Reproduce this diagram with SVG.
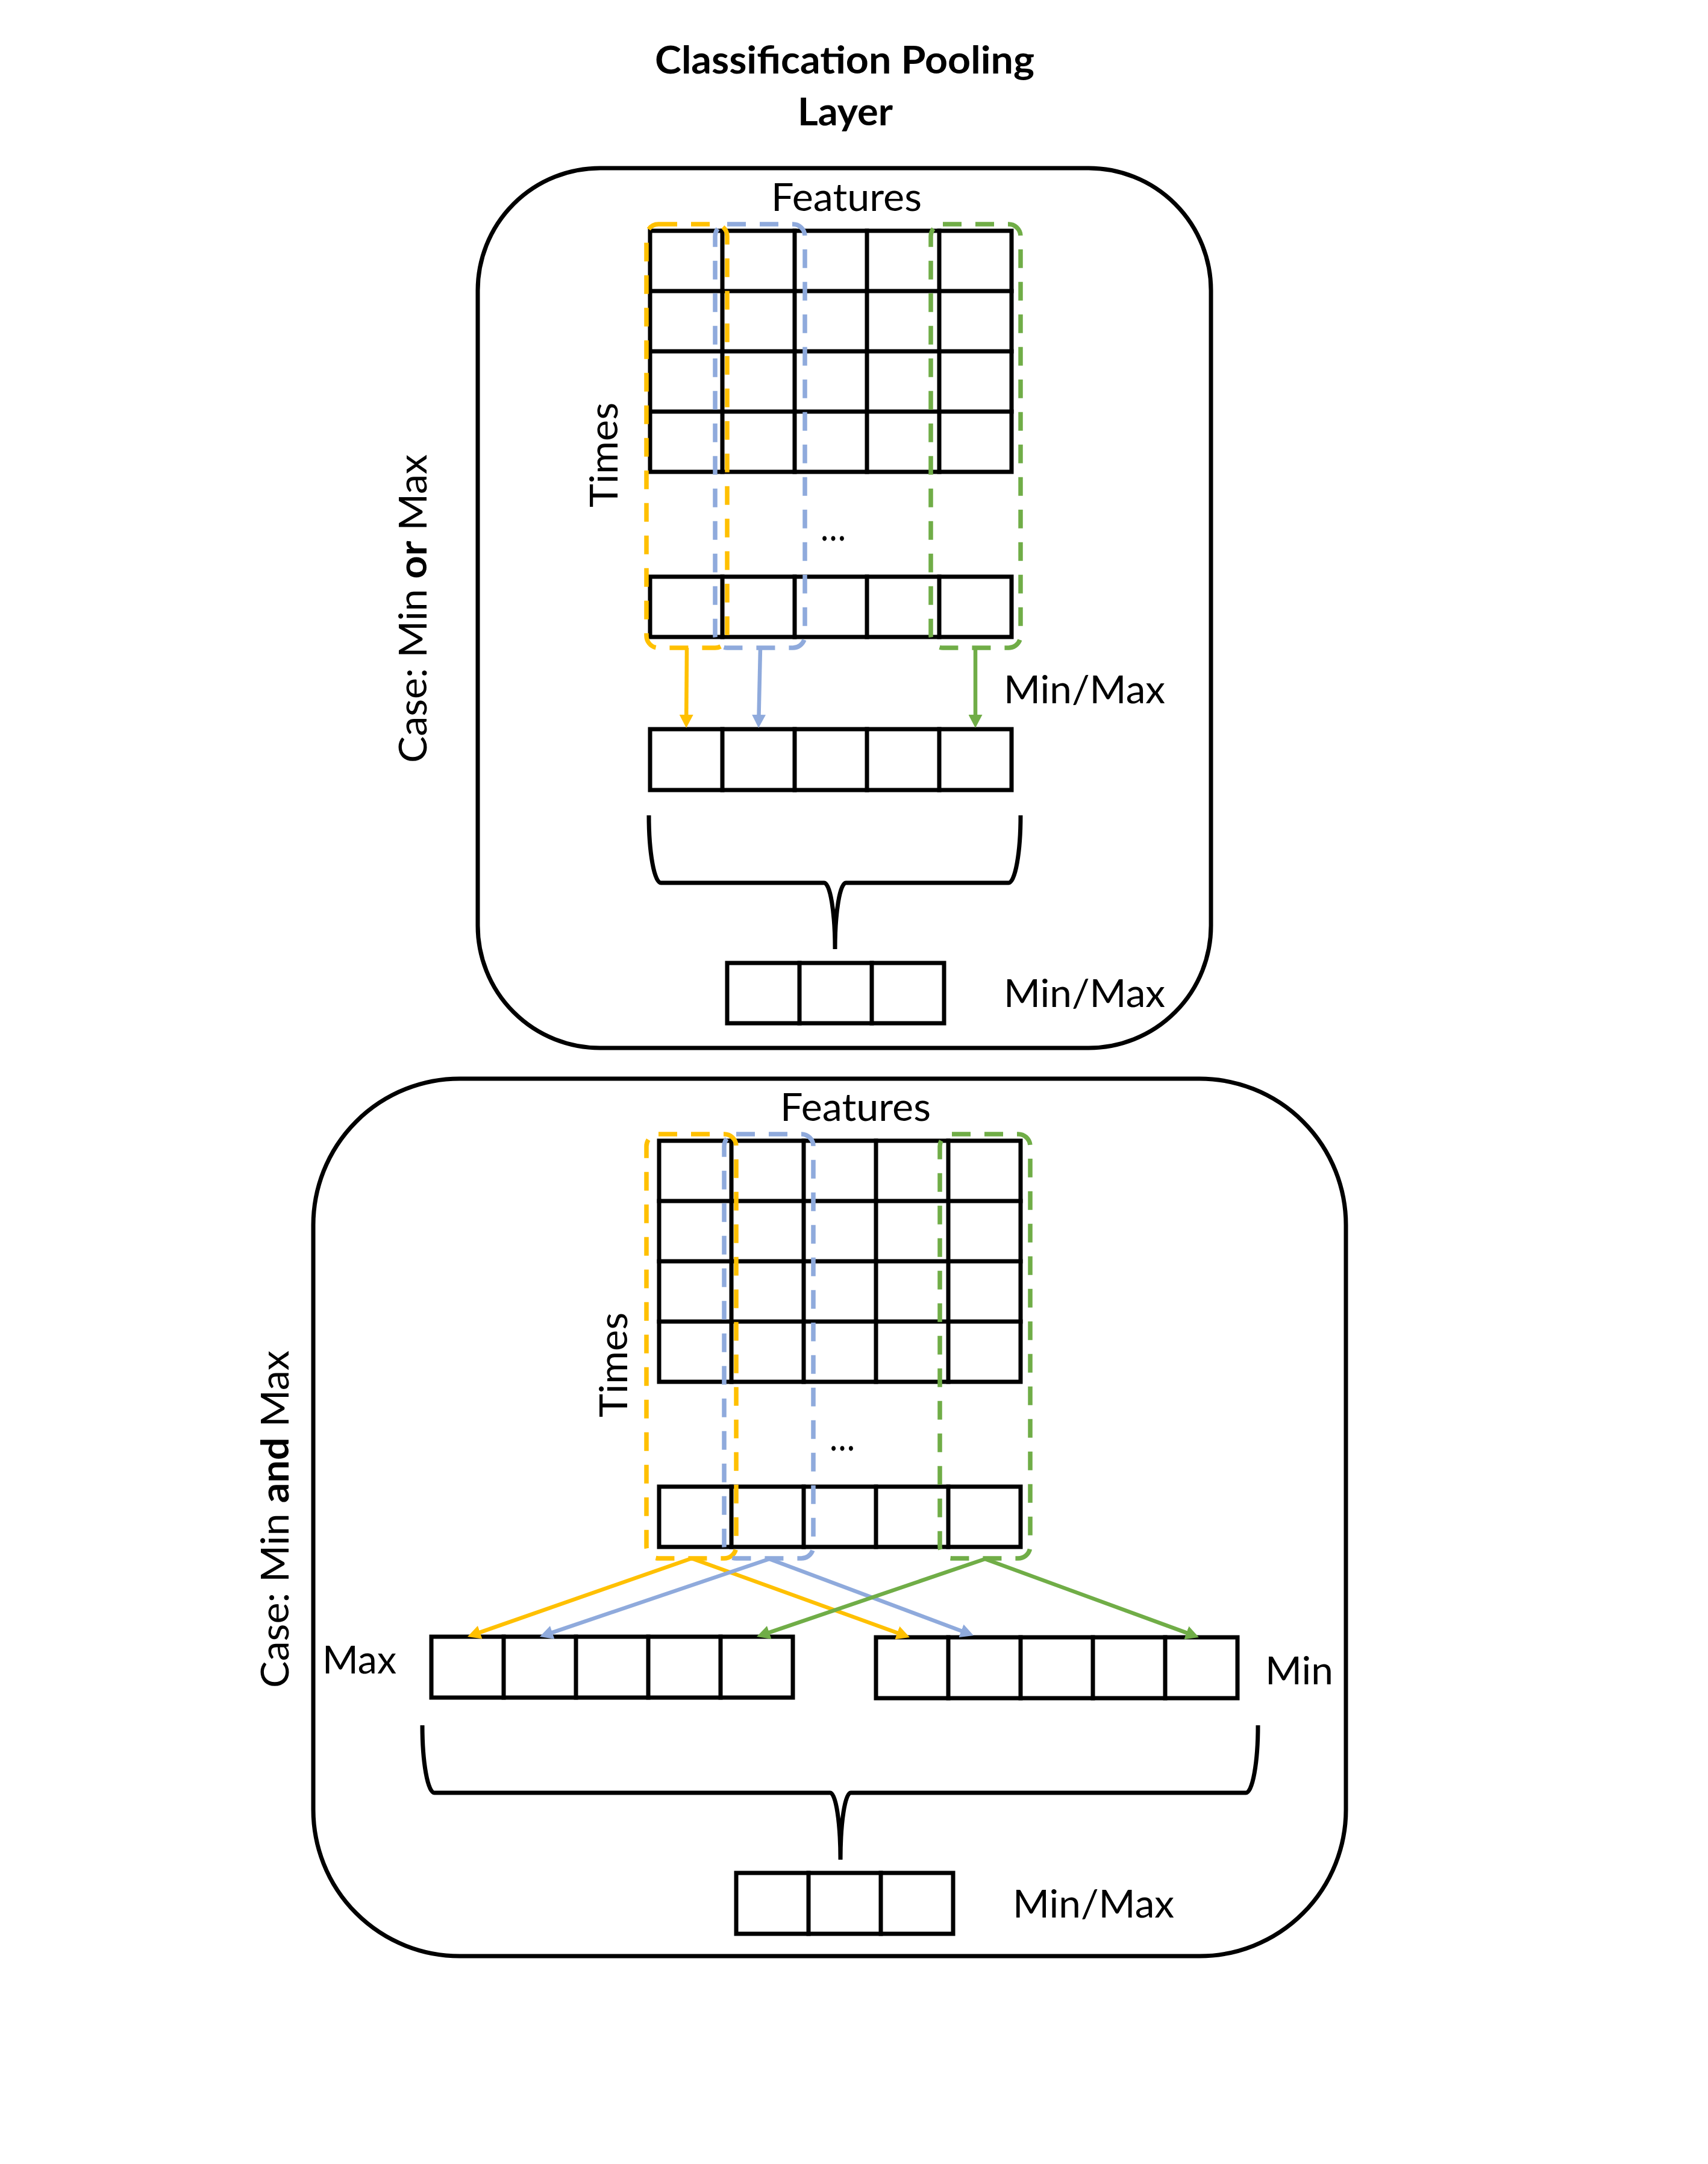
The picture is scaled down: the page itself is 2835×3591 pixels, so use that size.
<svg xmlns="http://www.w3.org/2000/svg" width="2835" height="3591" viewBox="0 0 2835 3591">
<defs>
<style>
.t{font-family:Lato,"Liberation Sans",sans-serif;font-size:64px;fill:#000}
.b{font-weight:bold}
.frame{fill:none;stroke:#000;stroke-width:7}
.cell{fill:none;stroke:#000;stroke-width:7;stroke-linecap:square}
.brace{fill:none;stroke:#000;stroke-width:7}
.dy{fill:none;stroke:#FFC000;stroke-width:7.5;stroke-dasharray:31 23}
.db{fill:none;stroke:#8FAADC;stroke-width:7.5;stroke-dasharray:31 23}
.dg{fill:none;stroke:#70AD47;stroke-width:7.5;stroke-dasharray:31 23}
.ay{fill:none;stroke:#FFC000;stroke-width:6.5;marker-end:url(#hy)}
.ab{fill:none;stroke:#8FAADC;stroke-width:6.5;marker-end:url(#hb)}
.ag{fill:none;stroke:#70AD47;stroke-width:6.5;marker-end:url(#hg)}
</style>
<marker id="hy" markerUnits="userSpaceOnUse" markerWidth="22" markerHeight="23" refX="2" refY="11.5" orient="auto"><path d="M0,0 L22,11.5 L0,23z" fill="#FFC000"/></marker>
<marker id="hb" markerUnits="userSpaceOnUse" markerWidth="22" markerHeight="23" refX="2" refY="11.5" orient="auto"><path d="M0,0 L22,11.5 L0,23z" fill="#8FAADC"/></marker>
<marker id="hg" markerUnits="userSpaceOnUse" markerWidth="22" markerHeight="23" refX="2" refY="11.5" orient="auto"><path d="M0,0 L22,11.5 L0,23z" fill="#70AD47"/></marker>
</defs>
<rect width="2835" height="3591" fill="#fff"/>

<g id="title">
<text class="t b" x="1402" y="122" text-anchor="middle" textLength="630" lengthAdjust="spacingAndGlyphs">Classification Pooling</text>
<text class="t b" x="1403" y="208" text-anchor="middle" textLength="158" lengthAdjust="spacingAndGlyphs">Layer</text>
</g>

<!-- ===== Case 1: Min or Max ===== -->
<g id="panel-min-or-max">
<rect class="frame" x="793" y="279" width="1217" height="1460" rx="203" ry="203"/>
<text class="t" transform="translate(708,1010) rotate(-90)" text-anchor="middle" textLength="512" lengthAdjust="spacingAndGlyphs">Case: Min <tspan class="b">or</tspan> Max</text>
</g>

<g id="labels-top">
<text class="t" x="1405" y="350" text-anchor="middle" textLength="250" lengthAdjust="spacingAndGlyphs">Features</text>
<text class="t" transform="translate(1025,755) rotate(-90)" text-anchor="middle" textLength="174" lengthAdjust="spacingAndGlyphs">Times</text>
<text class="t" x="1383" y="897" text-anchor="middle" textLength="42" lengthAdjust="spacingAndGlyphs">…</text>
<text class="t" x="1666" y="1167" textLength="268" lengthAdjust="spacingAndGlyphs">Min/Max</text>
<text class="t" x="1666" y="1671" textLength="268" lengthAdjust="spacingAndGlyphs">Min/Max</text>
</g>

<g id="grid-top">
<rect class="cell" x="1079" y="383" width="600" height="400"/>
<path class="cell" d="M1199,383V783M1319,383V783M1439,383V783M1559,383V783M1079,483H1679M1079,583H1679M1079,683H1679"/>
</g>
<g id="last-row-top">
<rect class="cell" x="1079" y="957" width="600" height="100"/>
<path class="cell" d="M1199,957V1057M1319,957V1057M1439,957V1057M1559,957V1057"/>
</g>
<g id="pooled-row-top">
<rect class="cell" x="1079" y="1210" width="600" height="101"/>
<path class="cell" d="M1199,1210V1311M1319,1210V1311M1439,1210V1311M1559,1210V1311"/>
</g>
<g id="output-row-top">
<rect class="cell" x="1207" y="1598" width="360" height="100"/>
<path class="cell" d="M1327,1598V1698M1447,1598V1698"/>
</g>
<g id="brace-top">
<path class="brace" d="M1077,1353 A20,112 0 0 0 1097,1465 L1368,1465 A18,110 0 0 1 1386,1575 A18,110 0 0 1 1404,1465 L1674,1465 A20,112 0 0 0 1694,1353"/>
</g>
<g id="columns-top">
<rect class="dy" x="1073" y="372" width="134" height="703" rx="20" ry="20"/>
<rect class="db" x="1187" y="372" width="149" height="703" rx="20" ry="20"/>
<rect class="dg" x="1545" y="372" width="149" height="703" rx="20" ry="20"/>
</g>

<!-- ===== Case 2: Min and Max ===== -->
<g id="panel-min-and-max">
<rect class="frame" x="520" y="1790" width="1714" height="1456" rx="243" ry="243"/>
<text class="t" transform="translate(479,2521) rotate(-90)" text-anchor="middle" textLength="560" lengthAdjust="spacingAndGlyphs">Case: Min <tspan class="b">and</tspan> Max</text>
</g>

<g id="labels-bottom">
<text class="t" x="1420" y="1860" text-anchor="middle" textLength="250" lengthAdjust="spacingAndGlyphs">Features</text>
<text class="t" transform="translate(1041,2265) rotate(-90)" text-anchor="middle" textLength="174" lengthAdjust="spacingAndGlyphs">Times</text>
<text class="t" x="1398" y="2407" text-anchor="middle" textLength="42" lengthAdjust="spacingAndGlyphs">…</text>
<text class="t" x="535" y="2777" textLength="123" lengthAdjust="spacingAndGlyphs">Max</text>
<text class="t" x="2100" y="2795" textLength="113" lengthAdjust="spacingAndGlyphs">Min</text>
<text class="t" x="1681" y="3182" textLength="268" lengthAdjust="spacingAndGlyphs">Min/Max</text>
</g>

<g id="grid-bottom">
<rect class="cell" x="1094" y="1893" width="600" height="400"/>
<path class="cell" d="M1214,1893V2293M1334,1893V2293M1454,1893V2293M1574,1893V2293M1094,1993H1694M1094,2093H1694M1094,2193H1694"/>
</g>
<g id="last-row-bottom">
<rect class="cell" x="1094" y="2467" width="600" height="100"/>
<path class="cell" d="M1214,2467V2567M1334,2467V2567M1454,2467V2567M1574,2467V2567"/>
</g>
<g id="max-row">
<rect class="cell" x="716" y="2716" width="600" height="101"/>
<path class="cell" d="M836,2716V2817M956,2716V2817M1076,2716V2817M1196,2716V2817"/>
</g>
<g id="min-row">
<rect class="cell" x="1454" y="2717" width="600" height="101"/>
<path class="cell" d="M1574,2717V2818M1694,2717V2818M1814,2717V2818M1934,2717V2818"/>
</g>
<g id="output-row-bottom">
<rect class="cell" x="1222" y="3108" width="360" height="101"/>
<path class="cell" d="M1342,3108V3209M1462,3108V3209"/>
</g>
<g id="brace-bottom">
<path class="brace" d="M701,2863 A20,112 0 0 0 721,2975 L1378,2975 A17,111 0 0 1 1395,3086 A17,111 0 0 1 1412,2975 L2068,2975 A20,112 0 0 0 2088,2863"/>
</g>
<g id="columns-bottom">
<rect class="dy" x="1073" y="1882" width="149" height="704" rx="20" ry="20"/>
<rect class="db" x="1202" y="1882" width="148" height="704" rx="20" ry="20"/>
<rect class="dg" x="1560" y="1882" width="150" height="704" rx="20" ry="20"/>
</g>

<g id="connectors">
<path class="ay" d="M1140,1075 L1139.2,1188"/>
<path class="ab" d="M1262,1075 L1259.5,1188"/>
<path class="ag" d="M1619,1075 L1619,1188"/>
<path class="ay" d="M1148,2586 L794.9,2709.4"/>
<path class="ay" d="M1148,2586 L1491.2,2710.2"/>
<path class="ab" d="M1277,2587 L914.9,2709.6"/>
<path class="ab" d="M1277,2587 L1597.3,2707"/>
<path class="ag" d="M1635,2587 L1274.9,2709.6"/>
<path class="ag" d="M1635,2587 L1971.2,2710.1"/>
</g>
</svg>
